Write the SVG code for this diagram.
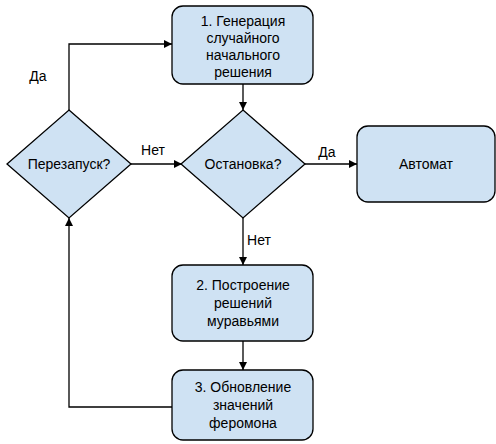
<svg xmlns="http://www.w3.org/2000/svg" width="496" height="444" viewBox="0 0 496 444">
  <defs>
    <marker id="arrow" viewBox="0 0 10 10" refX="10" refY="5" markerWidth="8" markerHeight="8" markerUnits="userSpaceOnUse" orient="auto">
      <path d="M0,0 L10,5 L0,10 z" fill="#000"/>
    </marker>
    <style>
      .node { fill: #cfe2f3; stroke: #000; stroke-width: 1.3; }
      .lbl { font-family: "Liberation Sans", Arial, sans-serif; font-size: 14px; fill: #000; text-anchor: middle; }
      .edge { fill: none; stroke: #000; stroke-width: 1.3; marker-end: url(#arrow); }
    </style>
  </defs>
  <rect width="496" height="444" fill="#fff"/>

  <g id="connectors">
    <path class="edge" d="M69,110 V44 H172"/>
    <path class="edge" d="M243,84 V110"/>
    <path class="edge" d="M131,164 H182"/>
    <path class="edge" d="M305,164 H357"/>
    <path class="edge" d="M243,218 V265"/>
    <path class="edge" d="M243,341 V370"/>
    <path class="edge" d="M173,407 H69 V218"/>
    <text class="lbl" x="38" y="81">Да</text>
    <text class="lbl" x="153" y="155">Нет</text>
    <text class="lbl" x="327" y="157">Да</text>
    <text class="lbl" x="259" y="245">Нет</text>
  </g>

  <g id="gen">
    <rect class="node" x="172" y="6" width="141" height="78" rx="11"/>
    <text class="lbl" x="243" y="26">1. Генерация</text>
    <text class="lbl" x="243" y="43">случайного</text>
    <text class="lbl" x="243" y="60">начального</text>
    <text class="lbl" x="243" y="77">решения</text>
  </g>

  <g id="restart">
    <polygon class="node" points="69,110 131,164 69,218 7,164"/>
    <text class="lbl" x="69" y="169">Перезапуск?</text>
  </g>

  <g id="stop">
    <polygon class="node" points="243,110 305,164 243,218 181,164"/>
    <text class="lbl" x="243" y="169">Остановка?</text>
  </g>

  <g id="automaton">
    <rect class="node" x="357" y="126" width="138" height="76" rx="11"/>
    <text class="lbl" x="426" y="169">Автомат</text>
  </g>

  <g id="build">
    <rect class="node" x="172" y="265" width="141" height="76" rx="11"/>
    <text class="lbl" x="243" y="290">2. Построение</text>
    <text class="lbl" x="243" y="308">решений</text>
    <text class="lbl" x="243" y="326">муравьями</text>
  </g>

  <g id="update">
    <rect class="node" x="172" y="370" width="141" height="70" rx="11"/>
    <text class="lbl" x="243" y="392">3. Обновление</text>
    <text class="lbl" x="243" y="410">значений</text>
    <text class="lbl" x="243" y="428">феромона</text>
  </g>
</svg>
